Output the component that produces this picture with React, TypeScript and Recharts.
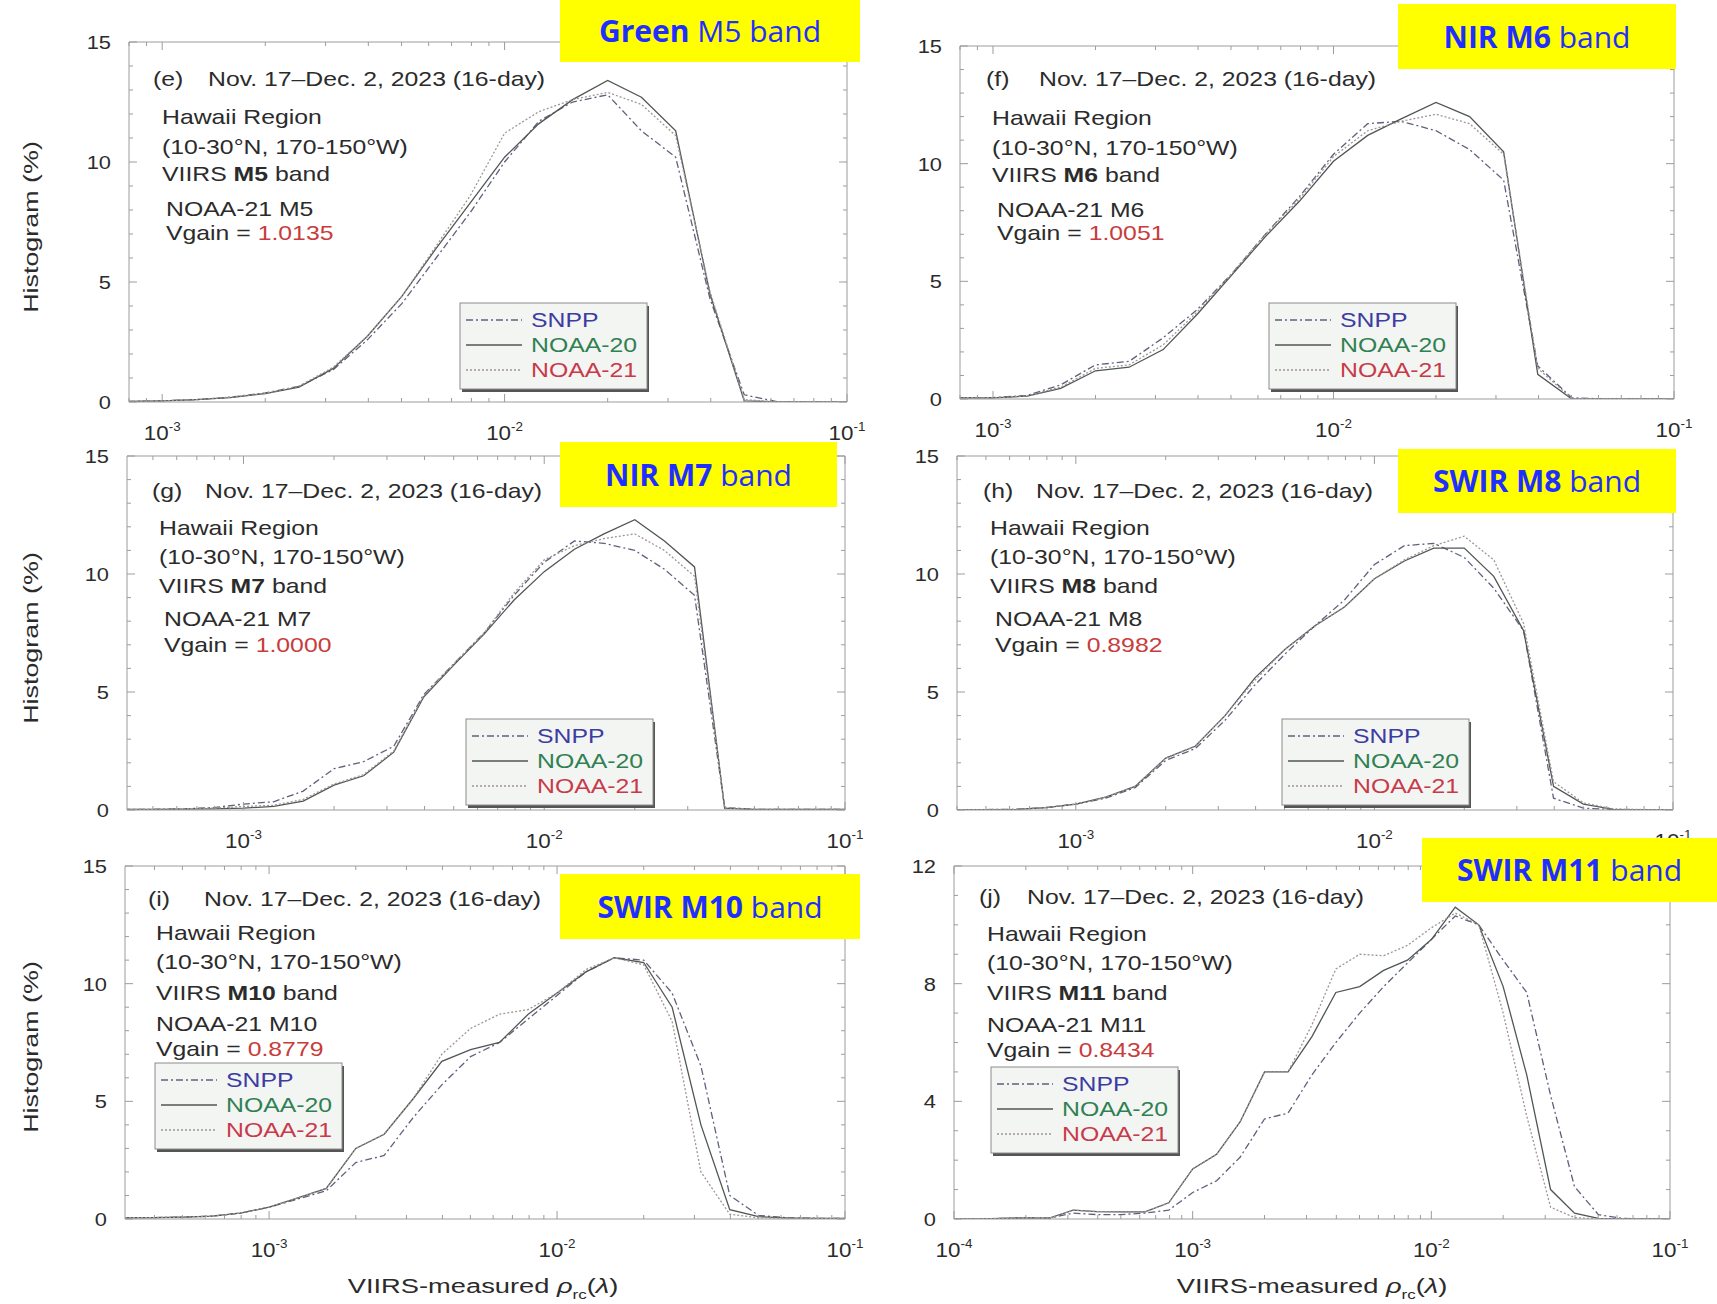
import { Line, LineChart, XAxis, YAxis } from 'recharts'

// bin centres, 10 bins per decade
const binsA = [0.000794, 0.001, 0.00126, 0.00158, 0.002, 0.00251, 0.00316, 0.00398, 0.00501, 0.00631, 0.00794, 0.01, 0.0126, 0.0158, 0.02, 0.0251, 0.0316, 0.0398, 0.0501, 0.0631, 0.0794, 0.1]
const binsB = [0.000398, 0.000501, 0.000631, 0.000794, 0.001, 0.00126, 0.00158, 0.002, 0.00251, 0.00316, 0.00398, 0.00501, 0.00631, 0.00794, 0.01, 0.0126, 0.0158, 0.02, 0.0251, 0.0316, 0.0398, 0.0501, 0.0631, 0.0794, 0.1]
const binsC = [0.000316, 0.000398, 0.000501, 0.000631, 0.000794, 0.001, 0.00126, 0.00158, 0.002, 0.00251, 0.00316, 0.00398, 0.00501, 0.00631, 0.00794, 0.01, 0.0126, 0.0158, 0.02, 0.0251, 0.0316, 0.0398, 0.0501, 0.0631, 0.0794, 0.1]
const binsD = [0.0001, 0.000126, 0.000158, 0.0002, 0.000251, 0.000316, 0.000398, 0.000501, 0.000631, 0.000794, 0.001, 0.00126, 0.00158, 0.002, 0.00251, 0.00316, 0.00398, 0.00501, 0.00631, 0.00794, 0.01, 0.0126, 0.0158, 0.02, 0.0251, 0.0316, 0.0398, 0.0501, 0.0631, 0.0794, 0.1]

// (e) M5
const snppE = [0.02, 0.05, 0.1, 0.2, 0.38, 0.65, 1.35, 2.6, 4.1, 6.0, 7.9, 10.0, 11.7, 12.5, 12.8, 11.3, 10.2, 4.3, 0.3, 0, 0, 0]
const n20E = [0.02, 0.05, 0.1, 0.18, 0.35, 0.62, 1.4, 2.75, 4.4, 6.4, 8.3, 10.2, 11.6, 12.6, 13.4, 12.7, 11.3, 4.5, 0.05, 0, 0, 0]
const n21E = [0.02, 0.05, 0.1, 0.2, 0.36, 0.66, 1.45, 2.75, 4.4, 6.5, 8.6, 11.2, 12.1, 12.6, 12.9, 12.4, 11.1, 4.6, 0.1, 0, 0, 0]

// (f) M6
const snppF = [0.05, 0.06, 0.15, 0.6, 1.45, 1.6, 2.6, 3.8, 5.3, 7.0, 8.6, 10.4, 11.7, 11.8, 11.4, 10.6, 9.3, 1.4, 0.05, 0, 0, 0]
const n20F = [0.05, 0.05, 0.12, 0.45, 1.2, 1.35, 2.1, 3.6, 5.25, 6.9, 8.4, 10.1, 11.2, 11.9, 12.6, 12.0, 10.5, 1.05, 0, 0, 0, 0]
const n21F = [0.05, 0.05, 0.13, 0.5, 1.3, 1.45, 2.3, 3.7, 5.3, 7.0, 8.5, 10.3, 11.4, 11.8, 12.1, 11.7, 10.4, 1.3, 0.02, 0, 0, 0]

// (g) M7
const snppG = [0.03, 0.03, 0.05, 0.1, 0.25, 0.35, 0.8, 1.75, 2.05, 2.7, 4.9, 6.2, 7.5, 9.1, 10.5, 11.4, 11.3, 11.0, 10.2, 9.1, 0.1, 0.03, 0.03, 0.03, 0.03]
const n20G = [0.03, 0.03, 0.04, 0.05, 0.08, 0.15, 0.38, 1.05, 1.45, 2.45, 4.8, 6.15, 7.45, 8.9, 10.1, 11.05, 11.7, 12.3, 11.4, 10.3, 0.07, 0.03, 0.03, 0.03, 0.03]
const n21G = [0.03, 0.03, 0.05, 0.08, 0.15, 0.2, 0.45, 1.1, 1.5, 2.5, 4.85, 6.2, 7.5, 9.2, 10.6, 11.2, 11.5, 11.7, 11.0, 9.9, 0.1, 0.03, 0.03, 0.03, 0.03]

// (h) M8
const snppH = [0.02, 0.02, 0.03, 0.1, 0.25, 0.5, 0.95, 2.1, 2.6, 3.8, 5.3, 6.6, 7.8, 8.9, 10.4, 11.2, 11.3, 10.7, 9.4, 7.6, 0.5, 0.08, 0.02, 0.02, 0.02]
const n20H = [0.02, 0.02, 0.03, 0.1, 0.25, 0.55, 1.0, 2.2, 2.7, 4.0, 5.6, 6.8, 7.8, 8.6, 9.8, 10.55, 11.1, 11.1, 9.9, 7.6, 1.0, 0.25, 0.03, 0.02, 0.02]
const n21H = [0.02, 0.02, 0.03, 0.1, 0.25, 0.55, 1.0, 2.2, 2.7, 4.0, 5.5, 6.8, 7.8, 8.6, 9.8, 10.6, 11.2, 11.6, 10.6, 7.9, 1.2, 0.3, 0.05, 0.02, 0.02]

// (i) M10
const snppI = [0.05, 0.06, 0.08, 0.12, 0.25, 0.5, 0.85, 1.2, 2.4, 2.7, 4.3, 5.7, 6.9, 7.5, 8.5, 9.5, 10.5, 11.1, 11.0, 9.6, 6.5, 1.0, 0.15, 0.05, 0.03, 0.03]
const n20I = [0.05, 0.06, 0.08, 0.12, 0.25, 0.5, 0.9, 1.3, 3.0, 3.6, 5.1, 6.7, 7.2, 7.5, 8.7, 9.6, 10.5, 11.1, 10.9, 9.0, 4.0, 0.4, 0.1, 0.05, 0.03, 0.03]
const n21I = [0.05, 0.06, 0.08, 0.12, 0.25, 0.5, 0.9, 1.3, 3.0, 3.6, 5.1, 7.0, 8.1, 8.7, 8.9, 9.6, 10.6, 11.1, 10.8, 8.4, 2.0, 0.2, 0.05, 0.03, 0.03, 0.03]

// (j) M11
const snppJ = [0, 0, 0.02, 0.04, 0.03, 0.2, 0.15, 0.15, 0.2, 0.3, 0.9, 1.3, 2.1, 3.4, 3.6, 4.9, 6.0, 7.0, 7.9, 8.7, 9.5, 10.3, 10.0, 8.8, 7.7, 4.2, 1.1, 0.15, 0.02, 0, 0]
const n20J = [0, 0, 0.02, 0.04, 0.03, 0.3, 0.25, 0.24, 0.24, 0.55, 1.7, 2.2, 3.3, 5.0, 5.0, 6.2, 7.7, 7.9, 8.45, 8.8, 9.5, 10.6, 10.0, 7.9, 4.9, 1.0, 0.2, 0.02, 0, 0, 0]
const n21J = [0, 0, 0.02, 0.04, 0.03, 0.3, 0.25, 0.24, 0.24, 0.55, 1.7, 2.2, 3.3, 5.0, 5.0, 6.6, 8.5, 9.0, 8.95, 9.3, 9.9, 10.4, 10.0, 7.0, 3.5, 0.4, 0.05, 0, 0, 0, 0]

const vgains = ['1.0135', '1.0051', '1.0000', '0.8982', '0.8779', '0.8434']
const bandNames = ['M5', 'M6', 'M7', 'M8', 'M10', 'M11']
const tags = ['(e)', '(f)', '(g)', '(h)', '(i)', '(j)']
const badgeBold = ['Green', 'NIR M6', 'NIR M7', 'SWIR M8', 'SWIR M10', 'SWIR M11']
const badgeRest = [' M5 band', ' band', ' band', ' band', ' band', ' band']
const yTicks15 = [0, 5, 10, 15]
const yTicks12 = [0, 4, 8, 12]

const INK = '#2b2b2b'
const AXIS = '#9c9c9c'
const FONT = '"Liberation Sans", Arial, sans-serif'
const SX = 1.24

const SERIES = [
  { key: 'snpp', name: 'SNPP', stroke: '#60607e', dash: '7 3 2 3', text: '#3c3ca2' },
  { key: 'n20', name: 'NOAA-20', stroke: '#4f5753', dash: undefined, text: '#2f8052' },
  { key: 'n21', name: 'NOAA-21', stroke: '#a39494', dash: '2 2', text: '#c83a4a' },
]

type Panel = {
  box: [number, number, number, number]
  xDomain: [number, number]
  yMax: number
  yMajor: number[]
  xs: number[]
  snpp: number[]
  n20: number[]
  n21: number[]
  tagX: number
  titleX: number
  titleY: number
  textX: number
  noaaX: number
  lineYs: number[]
  legend: [number, number]
  badge: [number, number, number, number]
}

const panels: Panel[] = [
  { box: [129, 42, 847, 412], xDomain: [0.0008, 0.1], yMax: 15, yMajor: yTicks15, xs: binsA, snpp: snppE, n20: n20E, n21: n21E,
    tagX: 153, titleX: 208, titleY: 86, textX: 162, noaaX: 166, lineYs: [124, 154, 181, 216, 240], legend: [460, 303], badge: [560, 0, 300, 62] },
  { box: [960, 46, 1674, 409], xDomain: [0.0008, 0.1], yMax: 15, yMajor: yTicks15, xs: binsA, snpp: snppF, n20: n20F, n21: n21F,
    tagX: 986, titleX: 1039, titleY: 86, textX: 992, noaaX: 997, lineYs: [125, 155, 182, 217, 240], legend: [1269, 303], badge: [1398, 4, 278, 65] },
  { box: [127, 456, 845, 820], xDomain: [0.00041, 0.1], yMax: 15, yMajor: yTicks15, xs: binsB, snpp: snppG, n20: n20G, n21: n21G,
    tagX: 152, titleX: 205, titleY: 498, textX: 159, noaaX: 164, lineYs: [535, 564, 593, 626, 652], legend: [466, 719], badge: [560, 442, 277, 65] },
  { box: [957, 456, 1673, 820], xDomain: [0.0004, 0.1], yMax: 15, yMajor: yTicks15, xs: binsB, snpp: snppH, n20: n20H, n21: n21H,
    tagX: 983, titleX: 1036, titleY: 498, textX: 990, noaaX: 995, lineYs: [535, 564, 593, 626, 652], legend: [1282, 719], badge: [1398, 449, 278, 64] },
  { box: [125, 866, 845, 1229], xDomain: [0.000316, 0.1], yMax: 15, yMajor: yTicks15, xs: binsC, snpp: snppI, n20: n20I, n21: n21I,
    tagX: 148, titleX: 204, titleY: 906, textX: 156, noaaX: 156, lineYs: [940, 969, 1000, 1031, 1056], legend: [155, 1063], badge: [560, 874, 300, 65] },
  { box: [954, 866, 1670, 1229], xDomain: [0.0001, 0.1], yMax: 12, yMajor: yTicks12, xs: binsD, snpp: snppJ, n20: n20J, n21: n21J,
    tagX: 979, titleX: 1027, titleY: 904, textX: 987, noaaX: 987, lineYs: [941, 970, 1000, 1032, 1057], legend: [991, 1067], badge: [1422, 838, 295, 64] },
]

function logTicks([min, max]: [number, number]) {
  const out: number[] = []
  for (let e = Math.floor(Math.log10(min)); e <= Math.ceil(Math.log10(max)); e++) {
    for (let m = 1; m <= 9; m++) {
      const v = +(m * Math.pow(10, e)).toPrecision(6)
      if (v >= min * 0.9999 && v <= max * 1.0001) out.push(v)
    }
  }
  return out
}

const isDecade = (v: number) => Math.abs(Math.log10(v) - Math.round(Math.log10(v))) < 1e-6

function BottomTick(props: any) {
  const { x, y, payload } = props
  const v = payload.value
  const major = isDecade(v)
  return (
    <g>
      <line x1={x} x2={x} y1={y} y2={y - (major ? 8 : 4)} stroke={AXIS} />
      {major && (
        <text transform={`translate(${x} ${y + 38}) scale(1.12 1)`} textAnchor="middle" fontSize={20} fill={INK} fontFamily={FONT}>
          <tspan>10</tspan>
          <tspan dy={-9} fontSize={12}>{`-${Math.round(-Math.log10(v))}`}</tspan>
        </text>
      )}
    </g>
  )
}

function TopTick(props: any) {
  const { x, y, payload } = props
  const major = isDecade(payload.value)
  return <line x1={x} x2={x} y1={y} y2={y + (major ? 8 : 4)} stroke={AXIS} />
}

function makeLeftTick(majors: number[]) {
  return (props: any) => {
    const { x, y, payload } = props
    const major = majors.includes(payload.value)
    return (
      <g>
        <line x1={x} x2={x + (major ? 8 : 4)} y1={y} y2={y} stroke={AXIS} />
        {major && (
          <text transform={`translate(${x - 18} ${y + 7}) scale(1.15 1)`} textAnchor="end" fontSize={19} fill={INK} fontFamily={FONT}>
            {payload.value}
          </text>
        )}
      </g>
    )
  }
}

function makeRightTick(majors: number[]) {
  return (props: any) => {
    const { x, y, payload } = props
    const major = majors.includes(payload.value)
    return <line x1={x} x2={x - (major ? 8 : 4)} y1={y} y2={y} stroke={AXIS} />
  }
}

function PanelChart({ p }: { p: Panel }) {
  const [l, t, r, b] = p.box
  const data = p.xs.map((x, i) => ({ x, snpp: p.snpp[i], n20: p.n20[i], n21: p.n21[i] }))
  const xt = logTicks(p.xDomain)
  const yt = Array.from({ length: p.yMax + 1 }, (_, i) => i)
  return (
    <div style={{ position: 'absolute', left: l - 70, top: t - 20 }}>
      <LineChart width={r - l + 90} height={b - t + 80} data={data} margin={{ top: 10, right: 10, bottom: 10, left: 10 }}>
        <XAxis xAxisId="b" dataKey="x" type="number" scale="log" domain={p.xDomain} allowDataOverflow ticks={xt} interval={0}
          tickSize={0} tickMargin={0} tickLine={false} axisLine={{ stroke: AXIS }} height={60} tick={(pr: any) => <BottomTick {...pr} />} />
        <XAxis xAxisId="t" orientation="top" dataKey="x" type="number" scale="log" domain={p.xDomain} allowDataOverflow ticks={xt} interval={0}
          tickSize={0} tickMargin={0} tickLine={false} axisLine={{ stroke: AXIS }} height={10} tick={(pr: any) => <TopTick {...pr} />} />
        <YAxis yAxisId="l" type="number" domain={[0, p.yMax]} allowDataOverflow ticks={yt} interval={0}
          tickSize={0} tickMargin={0} tickLine={false} axisLine={{ stroke: AXIS }} width={60} tick={makeLeftTick(p.yMajor)} />
        <YAxis yAxisId="r" orientation="right" type="number" domain={[0, p.yMax]} allowDataOverflow ticks={yt} interval={0}
          tickSize={0} tickMargin={0} tickLine={false} axisLine={{ stroke: AXIS }} width={10} tick={makeRightTick(p.yMajor)} />
        {SERIES.map((s) => (
          <Line key={s.key} xAxisId="b" yAxisId="l" type="linear" dataKey={s.key} stroke={s.stroke} strokeWidth={1.3}
            strokeDasharray={s.dash} dot={false} activeDot={false} isAnimationActive={false} />
        ))}
      </LineChart>
    </div>
  )
}

function Txt({ x, y, children, size = 20, fill = INK, anchor = 'start', sx = SX }: any) {
  return (
    <text transform={`translate(${x} ${y}) scale(${sx} 1)`} fontSize={size} fill={fill} textAnchor={anchor} fontFamily={FONT}>
      {children}
    </text>
  )
}

function Annotations({ p, i }: { p: Panel; i: number }) {
  const band = bandNames[i]
  const [lx, ly] = p.legend
  const [bx, by, bw, bh] = p.badge
  return (
    <g>
      <Txt x={p.tagX} y={p.titleY}>{tags[i]}</Txt>
      <Txt x={p.titleX} y={p.titleY}>Nov. 17–Dec. 2, 2023 (16-day)</Txt>
      <Txt x={p.textX} y={p.lineYs[0]}>Hawaii Region</Txt>
      <Txt x={p.textX} y={p.lineYs[1]}>(10-30°N, 170-150°W)</Txt>
      <Txt x={p.textX} y={p.lineYs[2]}>
        VIIRS <tspan fontWeight="bold">{band}</tspan> band
      </Txt>
      <Txt x={p.noaaX} y={p.lineYs[3]}>NOAA-21 {band}</Txt>
      <Txt x={p.noaaX} y={p.lineYs[4]}>
        Vgain = <tspan fill="#c83c3c">{vgains[i]}</tspan>
      </Txt>

      <rect x={lx + 2} y={ly + 3} width={187} height={86} fill="#555" />
      <rect x={lx} y={ly} width={187} height={86} fill="#f3f5f3" stroke="#8c8c8c" />
      {SERIES.map((s, k) => {
        const ry = ly + 17 + k * 25
        return (
          <g key={s.key}>
            <line x1={lx + 6} x2={lx + 62} y1={ry} y2={ry} stroke={s.stroke} strokeWidth={1.3} strokeDasharray={s.dash} />
            <Txt x={lx + 71} y={ry + 7} fill={s.text}>{s.name}</Txt>
          </g>
        )
      })}

      <rect x={bx} y={by} width={bw} height={bh} fill="#ffff00" />
      <text x={bx + bw / 2} y={by + bh / 2 + 11} textAnchor="middle" fontSize={30} fill="#1f2fff" fontFamily='"Open Sans", sans-serif'>
        <tspan fontWeight="bold">{badgeBold[i]}</tspan>
        <tspan>{badgeRest[i]}</tspan>
      </text>
    </g>
  )
}

export default function App() {
  return (
    <div style={{ position: 'absolute', left: 0, top: 0, width: 1717, height: 1304, background: '#fff', overflow: 'hidden' }}>
      {panels.map((p, i) => (
        <PanelChart key={i} p={p} />
      ))}
      <svg width={1717} height={1304} style={{ position: 'absolute', left: 0, top: 0, pointerEvents: 'none' }}>
        {[227, 638, 1047].map((cy) => (
          <text key={cy} transform={`translate(38 ${cy}) rotate(-90) scale(1.28 1)`} textAnchor="middle" fontSize={21} fill={INK} fontFamily={FONT}>
            Histogram (%)
          </text>
        ))}
        {[483, 1312].map((cx) => (
          <text key={cx} transform={`translate(${cx} 1293) scale(1.3 1)`} textAnchor="middle" fontSize={21} fill={INK} fontFamily={FONT}>
            VIIRS-measured <tspan fontStyle="italic">ρ</tspan>
            <tspan fontSize={13} dy={6}>rc</tspan>
            <tspan dy={-6}>(</tspan>
            <tspan fontStyle="italic">λ</tspan>)
          </text>
        ))}
        {panels.map((p, i) => (
          <Annotations key={i} p={p} i={i} />
        ))}
      </svg>
    </div>
  )
}
